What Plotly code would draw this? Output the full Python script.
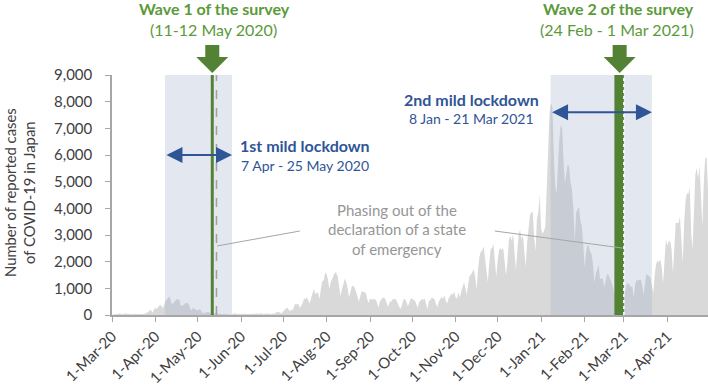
import pandas as pd
import plotly.graph_objects as go

# ---- data: daily reported COVID-19 cases in Japan ----
mar20 = [10, 14, 16, 28, 33, 59, 47, 33, 26, 54, 52, 56, 41, 60, 35, 15, 44, 39, 39, 39,
         53, 35, 40, 39, 65, 96, 112, 200, 173, 87, 220]
apr20 = [266, 225, 318, 361, 383, 252, 351, 515, 576, 680, 700, 507, 391, 456, 549, 587, 584, 568, 370, 355,
         378, 441, 437, 449, 372, 203, 187, 278, 224, 204]
may20 = [165, 202, 203, 125, 58, 87, 96, 83, 112, 59, 62, 83, 55, 99, 53, 42, 28, 30, 31, 39,
         25, 35, 26, 14, 21, 31, 40, 67, 40, 45, 40]
jun20 = [27, 51, 42, 44, 36, 38, 27, 18, 38, 39, 43, 58, 44, 47, 67, 44, 42, 40, 67, 49,
         57, 48, 31, 61, 48, 105, 99, 110, 86, 57]
jul20 = [127, 196, 248, 274, 209, 138, 207, 191, 355, 430, 391, 408, 259, 333, 453, 624, 594, 662, 510, 420,
         634, 795, 981, 777, 837, 839, 600, 986, 1264, 1301, 1580]
aug20 = [1536, 1330, 962, 1236, 1353, 1489, 1605, 1568, 1440, 1038, 700, 959, 1176, 1357, 1233, 1012, 654, 900, 1074, 1100,
         1033, 883, 734, 502, 695, 893, 873, 855, 834, 599, 440]
sep20 = [616, 585, 593, 576, 578, 459, 271, 510, 603, 648, 647, 584, 437, 296, 501, 497, 577, 599, 611, 524,
         366, 287, 234, 466, 601, 591, 492, 318, 492, 612]
oct20 = [629, 555, 554, 415, 276, 478, 533, 598, 573, 618, 426, 215, 540, 550, 660, 619, 592, 423, 304, 494,
         614, 684, 589, 752, 525, 434, 623, 729, 799, 762, 870]
nov20 = [660, 619, 852, 656, 868, 1047, 1230, 1010, 750, 1169, 1466, 1517, 1644, 1712, 1427, 948, 1694, 2184, 2384, 2423,
         2577, 2154, 1516, 1228, 1921, 2486, 2504, 2671, 2060, 1431]
dec20 = [2030, 2426, 2510, 2435, 2508, 2029, 1495, 2022, 2806, 2971, 2784, 3040, 2374, 1686, 2401, 3033, 3209, 2833, 2988, 2494,
         1811, 2703, 3264, 3741, 3845, 3878, 2947, 2395, 3601, 3851, 4520]
jan21 = [3232, 3059, 3141, 3325, 4916, 5946, 7570, 7950, 7790, 6094, 4875, 4537, 5875, 6605, 7133, 6999, 5744, 4911, 5316, 5653,
         5553, 4962, 4716, 3990, 2763, 3854, 3958, 4050, 3538, 3352, 2669]
feb21 = [1792, 2324, 2631, 2576, 2371, 2287, 1892, 1219, 1569, 1700, 1880, 1355, 1355, 1359, 1029, 1305, 1524, 1510, 1391, 1223,
         1094, 857, 738, 1071, 1076, 1061, 1172, 982]
mar21 = [654, 901, 1163, 1193, 1140, 1063, 1057, 655, 1128, 1317, 1284, 1324, 1318, 1142, 748, 1142, 1537, 1498, 1467, 1385,
         1119, 816, 1522, 1915, 2042, 1980, 2086, 1789, 1204, 2090, 2843]
apr21 = [2597, 2772, 2768, 2461, 1572, 2656, 3455, 3451, 3451, 3697, 2781, 1962, 3446, 4312, 4574, 4533, 4793, 3081, 2469, 4329,
         5289, 5514, 5120, 5600, 4591, 3322, 4936, 5886, 5905, 4679]

cases = (mar20 + apr20 + may20 + jun20 + jul20 + aug20 + sep20 + oct20 + nov20 + dec20
         + jan21 + feb21 + mar21 + apr21)
start_date = "2020-03-01"
dates = pd.date_range(start_date, periods=len(cases), freq="D")

y_ticks = list(range(0, 9001, 1000))

FONT = "Lato"
GREEN = "#548235"
GREEN_TXT = "#5a9a3a"
BLUE = "#2f5597"
GRAYTXT = "#969696"
AXIS = "#a6a6a6"
TXT = "#404040"

# layout geometry (pixels)
L, T, W, H = 112, 75, 596, 240
def py(p):  # pixel row -> paper y
    return (T + H - p) / H
def px(p):  # pixel column -> paper x
    return (p - L) / W

fig = go.Figure()
fig.add_trace(go.Scatter(x=dates, y=cases, mode="lines", line=dict(width=0, color="#d9d9d9"),
                         fill="tozeroy", fillcolor="#d9d9d9", hoverinfo="skip", showlegend=False))

shapes = []
shade = "rgba(158,176,203,0.29)"
# lockdown shades
shapes.append(dict(type="rect", xref="x", yref="y", x0="2020-04-07 18:00", x1="2020-05-25 14:00",
                   y0=0, y1=9000, fillcolor=shade, line=dict(width=0), layer="above"))
shapes.append(dict(type="rect", xref="x", yref="y", x0="2021-01-07 18:00", x1="2021-03-21",
                   y0=0, y1=9000, fillcolor=shade, line=dict(width=0), layer="above"))
# wave 1 line
shapes.append(dict(type="line", xref="x", yref="y", x0="2020-05-11 12:00", x1="2020-05-11 12:00",
                   y0=0, y1=9000, line=dict(color=GREEN, width=3), layer="above"))
# phase out dashed line (wave 1)
shapes.append(dict(type="line", xref="x", yref="y", x0="2020-05-14 12:00", x1="2020-05-14 12:00",
                   y0=0, y1=9000, line=dict(color="#a0a0a0", width=1.5, dash="dash"), layer="above"))
# wave 2 bar
shapes.append(dict(type="rect", xref="x", yref="y", x0="2021-02-22 06:00", x1="2021-03-01",
                   y0=0, y1=9000, fillcolor=GREEN, line=dict(width=0), layer="above"))
shapes.append(dict(type="line", xref="x", yref="y", x0="2021-03-01", x1="2021-03-01",
                   y0=0, y1=9000, line=dict(color="white", width=1.5, dash="dot"), layer="above"))
# callout lines
shapes.append(dict(type="line", xref="x", yref="y", x0="2020-05-15", y0=2590, x1="2020-07-13", y1=3150,
                   line=dict(color="#a6a6a6", width=1), layer="above"))
shapes.append(dict(type="line", xref="x", yref="y", x0="2020-11-29", y0=3150, x1="2021-02-28", y1=2510,
                   line=dict(color="#a6a6a6", width=1), layer="above"))
# green down arrows (above the plot area)
arrow_path = "M -7,30 L 7,30 L 7,18 L 16,18 L 0,2 L -16,18 L -7,18 Z"
for xa in ["2020-05-11 12:00", "2021-02-26"]:
    shapes.append(dict(type="path", xref="x", yref="paper", xsizemode="pixel", ysizemode="pixel",
                       xanchor=xa, yanchor=1, path=arrow_path, fillcolor=GREEN,
                       line=dict(width=0), layer="above"))

annotations = []
# blue double arrows
annotations.append(dict(x="2020-05-25 14:00", y=6000, ax="2020-04-07 18:00", ay=6000, xref="x", yref="y",
                        axref="x", ayref="y", text="", showarrow=True, arrowhead=2, arrowside="end+start",
                        arrowsize=1.6, arrowwidth=2, arrowcolor=BLUE))
annotations.append(dict(x="2021-03-21", y=7600, ax="2021-01-07 18:00", ay=7600, xref="x", yref="y",
                        axref="x", ayref="y", text="", showarrow=True, arrowhead=2, arrowside="end+start",
                        arrowsize=1.6, arrowwidth=2, arrowcolor=BLUE))

def txt(text, xp, yp, size, color, bold=False):
    annotations.append(dict(text=f"<b>{text}</b>" if bold else text, xref="paper", yref="paper",
                            x=px(xp), y=py(yp), xanchor="center", yanchor="middle", showarrow=False,
                            font=dict(family=FONT, size=size, color=color)))

txt("Wave 1 of the survey", 214, 8, 16, GREEN_TXT, bold=True)
txt("(11-12 May 2020)", 213, 29, 16, GREEN_TXT)
txt("Wave 2 of the survey", 618, 8, 16, GREEN_TXT, bold=True)
txt("(24 Feb - 1 Mar 2021)", 617, 29, 16, GREEN_TXT)
txt("1st mild lockdown", 305, 145, 16, BLUE, bold=True)
txt("7 Apr - 25 May 2020", 305, 165, 14, BLUE)
txt("2nd mild lockdown", 471, 99, 16, BLUE, bold=True)
txt("8 Jan - 21 Mar 2021", 471, 118, 14, BLUE)
txt("Phasing out of the", 397, 210, 15, GRAYTXT)
txt("declaration of a state", 397, 229, 15, GRAYTXT)
txt("of emergency", 397, 249, 15, GRAYTXT)

# y-axis title
annotations.append(dict(text="Number of reported cases<br>of COVID-19 in Japan", xref="paper", yref="paper",
                        x=px(19), y=py(193), xanchor="center", yanchor="middle", textangle=-90,
                        showarrow=False, font=dict(family=FONT, size=14.8, color=TXT)))

fig.update_layout(
    width=708, height=386,
    margin=dict(l=L, r=0, t=T, b=386 - T - H, pad=0),
    paper_bgcolor="white", plot_bgcolor="white",
    font=dict(family=FONT, color=TXT),
    shapes=shapes, annotations=annotations, showlegend=False,
    xaxis=dict(type="date", range=["2020-03-01", dates[-1]], tick0="2020-03-01", dtick="M1",
               tickformat="%-d-%b-%y", tickangle=-45, ticks="outside", ticklen=5, tickcolor=AXIS,
               showline=True, linecolor=AXIS, linewidth=1.5, showgrid=False, zeroline=False,
               tickfont=dict(family=FONT, size=15, color=TXT)),
    yaxis=dict(range=[0, 9000], tickvals=y_ticks, tickformat=",", ticks="outside", ticklen=5,
               tickcolor=AXIS, showline=True, linecolor=AXIS, linewidth=1.5, showgrid=False,
               zeroline=False, ticklabelstandoff=10,
               tickfont=dict(family=FONT, size=15, color=TXT)),
)

fig.write_html("out.html")
